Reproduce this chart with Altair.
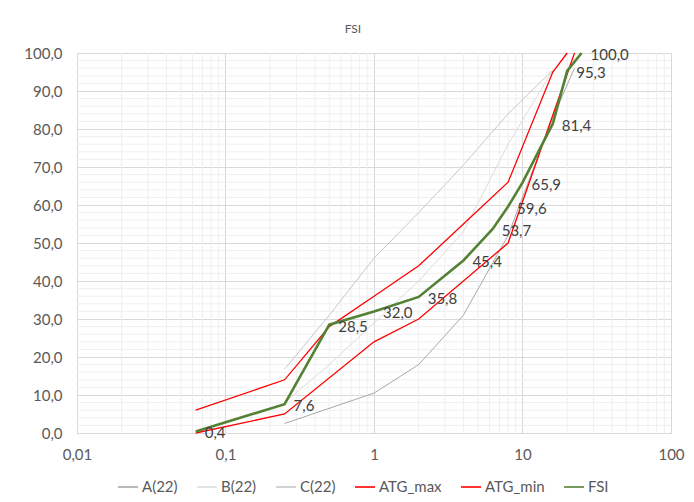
import altair as alt
import pandas as pd

# ---- data ----
SERIES = ["A(22)", "B(22)", "C(22)", "ATG_max", "ATG_min", "FSI"]

A22_X = [0.25, 1, 2, 4, 8, 16, 22.4]
A22_Y = [2.5, 10.5, 18, 31, 52, 83, 96]

B22_X = [0.25, 0.5, 1, 2, 4, 8, 16]
B22_Y = [8, 18, 29, 40, 53, 76, 95.5]

C22_X = [0.25, 0.5, 1, 2, 4, 8, 16]
C22_Y = [16.8, 31, 46, 58, 70.5, 84, 95.5]

ATGMAX_X = [0.063, 0.25, 0.5, 1, 2, 4, 8, 16, 20]
ATGMAX_Y = [6, 14, 28, 36, 44, 55, 66, 95, 100]

ATGMIN_X = [0.063, 0.25, 1, 2, 8, 22.4]
ATGMIN_Y = [0, 5, 24, 30, 50, 100]

FSI_X = [0.063, 0.25, 0.5, 1, 2, 4, 6.3, 8, 10, 16, 20, 25]
FSI_Y = [0.4, 7.6, 28.5, 32.0, 35.8, 45.4, 53.7, 59.6, 65.9, 81.4, 95.3, 100.0]

X_TICKS = [0.01, 0.1, 1, 10, 100]
X_MINOR = [k * d for d in [0.01, 0.1, 1, 10] for k in range(2, 10)]
Y_TICKS = [0, 10, 20, 30, 40, 50, 60, 70, 80, 90, 100]
Y_MINOR = [v for v in range(2, 100, 2) if v % 10 != 0]

COLORS = ["#a9a9a9", "#dcdcdc", "#c8c8c8", "#ff0000", "#ff0000", "#548235"]

# ---- build tables ----
rows = []
for name, xs, ys in [
    ("A(22)", A22_X, A22_Y),
    ("B(22)", B22_X, B22_Y),
    ("C(22)", C22_X, C22_Y),
    ("ATG_max", ATGMAX_X, ATGMAX_Y),
    ("ATG_min", ATGMIN_X, ATGMIN_Y),
    ("FSI", FSI_X, FSI_Y),
]:
    for i, (xv, yv) in enumerate(zip(xs, ys)):
        rows.append({"series": name, "x": xv, "y": yv, "i": i})
lines_df = pd.DataFrame(rows)

labels_df = pd.DataFrame({
    "x": FSI_X,
    "y": FSI_Y,
    "label": [f"{v:.1f}".replace(".", ",") for v in FSI_Y],
})
xminor_df = pd.DataFrame({"x": X_MINOR})
yminor_df = pd.DataFrame({"y": Y_MINOR})

FONT = "Lato"
TXT = "#595959"

x_axis = alt.Axis(
    values=X_TICKS, format="~g", labelExpr="replace(datum.label, '.', ',')",
    title=None, grid=True, gridColor="#d9d9d9", domain=False, ticks=False,
    labelFont=FONT, labelFontSize=15, labelColor=TXT, labelPadding=14,
    labelFlush=False,
)
y_axis = alt.Axis(
    values=Y_TICKS, labelExpr="replace(format(datum.value, '.1f'), '.', ',')",
    title=None, grid=True, gridColor="#d9d9d9", domain=False, ticks=False,
    labelFont=FONT, labelFontSize=15, labelColor=TXT, labelPadding=15,
)
x_scale = alt.Scale(type="log", domain=[0.01, 100])
y_scale = alt.Scale(domain=[0, 100], nice=False)
color_scale = alt.Scale(domain=SERIES, range=COLORS)

def X():
    return alt.X("x:Q", scale=x_scale, axis=x_axis)

def Y():
    return alt.Y("y:Q", scale=y_scale, axis=y_axis)

xminor = alt.Chart(xminor_df).mark_rule(color="#efefef", strokeWidth=1).encode(x=X())
yminor = alt.Chart(yminor_df).mark_rule(color="#efefef", strokeWidth=1).encode(y=Y())

legend = alt.Legend(
    orient="none", legendX=40, legendY=423, direction="horizontal", title=None,
    labelFont=FONT, labelFontSize=15, labelColor=TXT, symbolType="stroke",
    symbolSize=400, symbolStrokeWidth=1.6, columnPadding=15, labelOffset=3,
)

base = alt.Chart(lines_df).encode(
    x=X(),
    y=Y(),
    color=alt.Color("series:N", scale=color_scale, legend=legend),
    order="i:Q",
)
gray = base.transform_filter(
    alt.FieldOneOfPredicate(field="series", oneOf=SERIES[:3])
).mark_line(strokeWidth=1)
red = base.transform_filter(
    alt.FieldOneOfPredicate(field="series", oneOf=SERIES[3:5])
).mark_line(strokeWidth=1.3)
green = base.transform_filter(
    alt.FieldOneOfPredicate(field="series", oneOf=SERIES[5:])
).mark_line(strokeWidth=2.6)

texts = alt.Chart(labels_df).mark_text(
    align="left", baseline="middle", dx=9, dy=2, font=FONT, fontSize=15, color="#404040"
).encode(x=X(), y=Y(), text="label:N")

chart = alt.layer(xminor, yminor, gray, red, green, texts).properties(
    width=594,
    height=380,
    autosize=alt.AutoSizeParams(type="none"),
    padding={"left": 69, "top": 45, "right": 15, "bottom": 69},
    title=alt.TitleParams("FSI", font=FONT, fontSize=12, color=TXT, fontWeight="normal", dx=-21, offset=10),
).configure_view(stroke="transparent").configure(background="white")

chart.save("out.html", embed_options={"renderer": "svg", "actions": False})
